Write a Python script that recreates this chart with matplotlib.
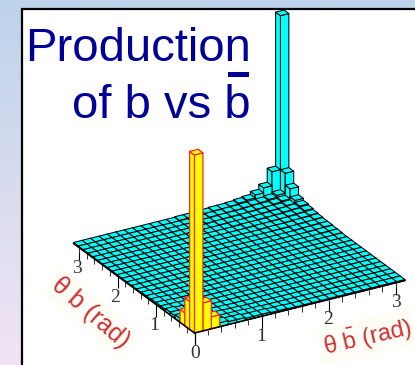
import numpy as np
import matplotlib
matplotlib.use("Agg")
import matplotlib.pyplot as plt
from matplotlib.patches import Polygon, Rectangle

# ------------------------------------------------------------
# data: lego heights, one row per theta b bin, one column per theta bbar bin
# ------------------------------------------------------------
HEIGHTS = [
    [178, 28, 12, 4, 3, 3, 2, 2, 2, 1.5, 1.5, 1, 1, 1, 1, 1, 1, 1, 1, 1, 1, 1, 1, 1, 1],
    [28, 10, 4, 3, 2, 2, 2, 1.5, 1.5, 1, 1, 1, 1, 1, 1, 1, 1, 1, 1, 1, 1, 1, 1, 1, 1],
    [13, 4, 3, 2, 2, 1.5, 1.5, 1, 1, 1, 1, 1, 1, 1, 1, 1, 1, 1, 1, 1, 1, 1, 1, 1, 1],
    [4, 3, 2, 2, 1.5, 1.5, 1, 1, 1, 1, 1, 1, 1, 1, 1, 1, 1, 1, 1, 1, 1, 1, 1, 1, 1],
    [3, 2, 2, 1.5, 1.5, 1, 1, 1, 1, 1, 1, 1, 1, 1, 1, 1, 1, 1, 1, 1, 1, 1, 1, 1, 1],
    [3, 2, 1.5, 1.5, 1, 1, 1, 1, 1, 1, 1, 1, 1, 1, 1, 1, 1, 1, 1, 1, 1, 1, 1, 1, 1],
    [2, 2, 1.5, 1, 1, 1, 1, 1, 1, 1, 1, 1, 1, 1, 1, 1, 1, 1, 1, 1, 1, 1, 1, 1, 1],
    [2, 1.5, 1, 1, 1, 1, 1, 1, 1, 1, 1, 1, 1, 1, 1, 1, 1, 1, 1, 1, 1, 1, 1, 1, 1],
    [2, 1.5, 1, 1, 1, 1, 1, 1, 1, 1, 1, 1, 1, 1, 1, 1, 1, 1, 1, 1, 1, 1, 1, 1, 1],
    [1.5, 1, 1, 1, 1, 1, 1, 1, 1, 1, 1, 1, 1, 1, 1, 1, 1, 1, 1, 1, 1, 1, 1, 1, 1],
    [1.5, 1, 1, 1, 1, 1, 1, 1, 1, 1, 1, 1, 1, 1, 1, 1, 1, 1, 1, 1, 1, 1, 1, 1, 1],
    [1, 1, 1, 1, 1, 1, 1, 1, 1, 1, 1, 1, 1, 1, 1, 1, 1, 1, 1, 1, 1, 1, 1, 1, 1],
    [1, 1, 1, 1, 1, 1, 1, 1, 1, 1, 1, 1, 1, 1, 1, 1, 1, 1, 1, 1, 1, 1, 1, 1, 1],
    [1, 1, 1, 1, 1, 1, 1, 1, 1, 1, 1, 1, 1, 1, 1, 1, 1, 1, 1, 1, 1, 1, 1, 1, 1.5],
    [1, 1, 1, 1, 1, 1, 1, 1, 1, 1, 1, 1, 1, 1, 1, 1, 1, 1, 1, 1, 1, 1, 1, 1.5, 1.5],
    [1, 1, 1, 1, 1, 1, 1, 1, 1, 1, 1, 1, 1, 1, 1, 1, 1, 1, 1, 1, 1, 1, 1.5, 1.5, 2],
    [1, 1, 1, 1, 1, 1, 1, 1, 1, 1, 1, 1, 1, 1, 1, 1, 1, 1, 1, 1, 1, 1.5, 1.5, 2, 2],
    [1, 1, 1, 1, 1, 1, 1, 1, 1, 1, 1, 1, 1, 1, 1, 1, 1, 1, 1, 1.5, 1.5, 1.5, 2, 2, 2.5],
    [1, 1, 1, 1, 1, 1, 1, 1, 1, 1, 1, 1, 1, 1, 1, 1, 1, 1, 1.5, 1.5, 1.5, 2, 2, 2.5, 3],
    [1, 1, 1, 1, 1, 1, 1, 1, 1, 1, 1, 1, 1, 1, 1, 1, 1, 1.5, 1.5, 1.5, 2, 2, 2.5, 3, 4],
    [1, 1, 1, 1, 1, 1, 1, 1, 1, 1, 1, 1, 1, 1, 1, 1, 1.5, 1.5, 1.5, 2, 2, 2.5, 3, 3.5, 5],
    [1, 1, 1, 1, 1, 1, 1, 1, 1, 1, 1, 1, 1, 1, 1, 1.5, 1.5, 1.5, 2, 2, 2.5, 3, 3, 4, 7],
    [1, 1, 1, 1, 1, 1, 1, 1, 1, 1, 1, 1, 1, 1, 1.5, 1.5, 2, 2, 2, 2.5, 3, 3, 4, 5, 15],
    [1, 1, 1, 1, 1, 1, 1, 1, 1, 1, 1, 1, 1, 1.5, 1.5, 2, 2, 2.5, 2.5, 3, 3.5, 4, 5, 7, 27],
    [1, 1, 1, 1, 1, 1, 1, 1, 1, 1, 1, 1, 1.5, 1.5, 2, 2, 2.5, 2.5, 3, 4, 5, 8, 13, 27, 181],
]

AXIS_MAX = np.pi
MAJOR_TICKS = [0, 1, 2, 3]
MINOR_TICKS = [0.2, 0.4, 0.6, 0.8, 1.2, 1.4, 1.6, 1.8, 2.2, 2.4, 2.6, 2.8, 3.0]

BG_TOP = "#BDD3EB"
BG_BOTTOM = "#F2E4F4"
TITLE_COLOR = "#000099"
LABEL_COLOR = "#CC3030"
CYAN = "#00FFFF"
YELLOW = "#FFFF00"
RED = "#FF2222"

# projection of (theta bbar, theta b, height) to picture pixels
ORIGIN = np.array([194.5, 333.0])
U_DIR = np.array([67.0, -16.7])
V_DIR = np.array([-38.5, -28.5])


def project(u, v, z=0.0):
    p = ORIGIN + u * U_DIR + v * V_DIR
    return p[0], p[1] - z


def draw_bin(ax, i, j, z, width):
    u0, u1 = i * width, (i + 1) * width
    v0, v1 = j * width, (j + 1) * width
    near_origin = i + j <= 2
    face = YELLOW if near_origin else CYAN
    edge = RED if near_origin else "black"
    lw = 0.9 if near_origin else 0.75

    faces = [
        # face along the b axis, seen on the left
        [project(u0, v1, 0), project(u0, v0, 0), project(u0, v0, z), project(u0, v1, z)],
        # face along the bbar axis, seen on the right
        [project(u0, v0, 0), project(u1, v0, 0), project(u1, v0, z), project(u0, v0, z)],
        # top
        [project(u0, v0, z), project(u1, v0, z), project(u1, v1, z), project(u0, v1, z)],
    ]
    for pts in faces:
        ax.add_patch(Polygon(pts, closed=True, facecolor=face, edgecolor=edge,
                             linewidth=lw, joinstyle="round"))


TICK_STYLE = dict(family="Liberation Serif", fontsize=14, color="#333333",
                  ha="center", va="center")


def draw_axis_ticks(ax):
    for t in MAJOR_TICKS:
        for pt in (project(t, 0), project(0, t)):
            ax.plot([pt[0], pt[0]], [pt[1], pt[1] + 12], color="black", lw=0.8,
                    solid_capstyle="butt")
    for t in MINOR_TICKS:
        for pt in (project(t, 0), project(0, t)):
            ax.plot([pt[0], pt[0]], [pt[1], pt[1] + 5.5], color="#333333", lw=0.7,
                    solid_capstyle="butt")

    x0, y0 = project(0, 0)
    ax.text(x0 + 1, y0 + 20, "0", **TICK_STYLE)
    for t in MAJOR_TICKS[1:]:
        x, y = project(t, 0)
        ax.text(x, y + 20, str(t), **TICK_STYLE)
        x, y = project(0, t)
        ax.text(x - 2, y + 21, str(t), **TICK_STYLE)


def main():
    plt.rcParams["mathtext.fontset"] = "custom"
    plt.rcParams["mathtext.rm"] = "Liberation Sans"

    fig = plt.figure(figsize=(4.15, 3.65), dpi=100)
    ax = fig.add_axes([0, 0, 1, 1])

    # background gradient and white panel
    cmap = matplotlib.colors.LinearSegmentedColormap.from_list("bg", [BG_TOP, BG_BOTTOM])
    ax.imshow(np.linspace(0, 1, 256).reshape(-1, 1), cmap=cmap, aspect="auto",
              extent=(0, 415, 365, 0), zorder=0)
    ax.add_patch(Rectangle((22, 9), 420, 380, facecolor="white", edgecolor="black",
                           linewidth=1.6, zorder=0.5))
    ax.set_xlim(0, 415)
    ax.set_ylim(365, 0)
    ax.axis("off")

    heights = np.array(HEIGHTS, dtype=float)
    n = heights.shape[0]
    width = AXIS_MAX / n

    draw_axis_ticks(ax)

    # painter order: far corner first
    order = sorted(((i, j) for i in range(n) for j in range(n)), key=lambda c: -(c[0] + c[1]))
    for i, j in order:
        draw_bin(ax, i, j, heights[j, i], width)

    # front edges of the floor
    for end in (project(AXIS_MAX, 0), project(0, AXIS_MAX)):
        x0, y0 = project(0, 0)
        ax.plot([x0, end[0]], [y0, end[1]], color="black", lw=1.1, zorder=3)

    # title
    ax.text(25, 61, "Production", family="Liberation Sans", fontsize=34,
            color=TITLE_COLOR, ha="left", va="baseline")
    ax.text(251, 118, "of b vs b", family="Liberation Sans", fontsize=34,
            color=TITLE_COLOR, ha="right", va="baseline")
    ax.add_patch(Rectangle((228, 72), 21, 5, facecolor=TITLE_COLOR, edgecolor="none"))

    # axis labels
    ax.text(91, 313, "θ b (rad)", family="Liberation Sans", fontsize=18, color=LABEL_COLOR,
            rotation=-41, rotation_mode="anchor", ha="center", va="center",
            bbox=dict(facecolor="#FFFDF6", edgecolor="none", pad=3))
    ax.text(367, 337, r"θ $\bar{\mathrm{b}}$ (rad)", family="Liberation Sans", fontsize=17,
            color=LABEL_COLOR, rotation=13, rotation_mode="anchor", ha="center", va="center",
            bbox=dict(facecolor="#FFFDF6", edgecolor="none", pad=3))

    fig.savefig("out.png", dpi=100)
    plt.close(fig)


if __name__ == "__main__":
    main()
